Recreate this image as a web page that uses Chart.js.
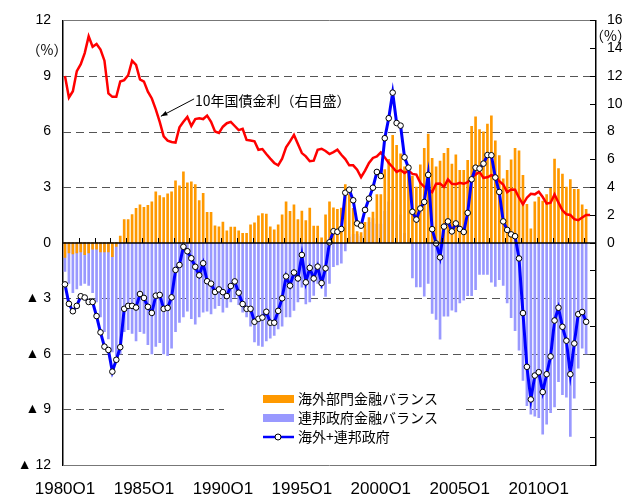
<!DOCTYPE html>
<html lang="ja">
<head>
<meta charset="UTF-8">
<title>海外部門・連邦政府金融バランスと10年国債金利</title>
<script src="https://cdn.jsdelivr.net/npm/chart.js"></script>
<style>
  html, body { margin: 0; padding: 0; background: #fff; }
  #wrap { width: 624px; height: 494px; position: relative; }
</style>
</head>
<body>
<div id="wrap"><canvas id="chart"></canvas></div>
<script>
// quarters 1980Q1 .. 2013Q3
const quarters = [];
for (let yr = 1980; yr <= 2013; yr++) {
    for (let q = 1; q <= 4; q++) {
        if (yr === 2013 && q > 3) break;
        quarters.push(yr + 'Q' + q);
    }
}
const tickLabels = ['1980Q1', '1985Q1', '1990Q1', '1995Q1', '2000Q1', '2005Q1', '2010Q1'];
const leftTicks = [-12, -9, -6, -3, 0, 3, 6, 9, 12];

// 海外部門金融バランス (%)
const foreignBal = [
    -0.8, -0.55, -0.6, -0.55, -0.5, -0.65, -0.55, -0.35, -0.35, -0.5,
    -0.5, -0.5, -0.75, -0.2, 0.36, 1.25, 1.25, 1.52, 1.86, 2.05,
    1.91, 2.02, 2.21, 2.75, 2.54, 2.43, 2.64, 2.75, 3.34, 3.07,
    3.82, 3.23, 3.29, 3.14, 2.27, 2.66, 1.64, 1.64, 0.91, 0.86,
    1.11, 0.64, 0.84, 0.84, 0.64, 0.5, 0.5, 0.96, 1.07, 1.45,
    1.57, 1.55, 0.85, 0.7, 0.96, 1.5, 2.2, 1.7, 2.04, 1.25,
    1.71, 1.2, 1.87, 0.9, 0.9, 0.26, 1.5, 2.2, 1.88, 1.8,
    1.87, 3.14, 2.6, 1.85, 0.6, 0.55, 1.1, 1.35, 1.65, 2.6,
    2.6, 3.95, 4.5, 5.8, 5.25, 4.8, 4.1, 3.9, 3.6, 3.0,
    4.2, 5.09, 5.86, 4.55, 4.1, 4.4, 4.83, 5.1, 4.25, 4.75,
    3.9, 3.9, 4.45, 6.28, 6.8, 6.1, 5.98, 6.4, 6.85, 5.5,
    4.7, 3.45, 3.9, 4.48, 5.1, 4.96, 3.64, 2.07, 0.75, 2.2,
    2.46, 2.25, 2.6, 2.93, 4.52, 4.0, 3.7, 3.0, 3.41, 2.88,
    2.88, 2.04, 1.8
];

// 連邦政府金融バランス (%)
const federalBal = [
    -1.55, -2.2, -2.7, -2.5, -2.3, -2.2, -2.3, -2.7, -3.2, -4.0,
    -4.8, -5.2, -5.9, -6.1, -6.0, -4.8, -4.7, -4.9, -5.3, -4.8,
    -4.9, -5.5, -6.0, -5.6, -5.4, -6.0, -6.1, -5.7, -4.8, -4.3,
    -4.0, -3.7, -4.1, -4.4, -4.0, -3.75, -3.7, -3.85, -3.55, -3.4,
    -3.75, -3.5, -3.2, -2.95, -3.35, -3.75, -4.0, -4.5, -5.35, -5.55,
    -5.6, -5.3, -5.15, -5.0, -4.65, -4.5, -4.0, -4.0, -3.65, -3.2,
    -2.4, -3.3, -3.2, -2.85, -2.2, -2.45, -2.9, -2.2, -1.3, -1.2,
    -1.1, -0.45, 0.3, 0.45, 0.45, 0.35, 0.7, 1.1, 1.3, 1.0,
    1.0, 1.7, 2.2, 2.3, 1.2, 1.5, 0.5, 0.15, -1.9, -2.39,
    -2.39, -2.89, -2.2, -3.82, -4.14, -5.21, -3.96, -3.96, -3.64, -3.73,
    -3.25, -3.1, -2.86, -2.86, -2.54, -1.71, -1.71, -1.71, -2.13, -2.36,
    -2.0, -2.3, -3.25, -4.05, -4.75, -5.8, -7.44, -8.8, -9.25, -9.36,
    -9.45, -10.34, -9.8, -9.18, -8.86, -7.5, -8.2, -8.34, -10.46, -8.39,
    -6.77, -5.7, -6.0
];

// 海外+連邦政府 (%)
const combinedBal = [
    -2.25, -3.30, -3.70, -3.41, -2.89, -2.96, -3.20, -3.20, -3.96, -4.84,
    -5.61, -5.79, -6.96, -6.32, -5.64, -3.57, -3.41, -3.41, -3.50, -2.77,
    -2.98, -3.46, -3.79, -2.86, -2.82, -3.57, -3.52, -2.95, -1.47, -1.20,
    -0.22, -0.46, -0.84, -1.30, -1.76, -1.11, -2.08, -2.21, -2.66, -2.52,
    -2.67, -2.88, -2.34, -2.09, -2.70, -3.31, -3.57, -3.57, -4.27, -4.11,
    -4.04, -3.73, -4.32, -4.32, -3.68, -3.00, -1.82, -2.32, -1.61, -1.93,
    -0.66, -2.14, -1.36, -1.93, -1.29, -2.18, -1.38, 0.02, 0.62, 0.59,
    0.74, 2.70, 2.86, 2.29, 1.04, 0.92, 1.77, 2.38, 2.97, 3.82,
    3.60, 5.64, 6.72, 8.10, 6.46, 6.32, 4.61, 4.05, 1.67, 1.25,
    1.85, 2.20, 3.66, 0.73, -0.04, -0.79, 0.87, 1.15, 0.61, 1.04,
    0.74, 0.58, 1.61, 3.42, 4.05, 4.00, 4.27, 4.73, 4.72, 3.52,
    2.74, 1.15, 0.69, 0.45, 0.35, -0.85, -3.80, -6.70, -8.46, -7.17,
    -6.99, -8.06, -7.10, -6.14, -4.20, -3.51, -4.54, -5.29, -7.10, -5.44,
    -3.86, -3.74, -4.27
];

// 10年国債金利 (%, 右目盛)
const tenYearYield = [
    12.0, 10.45, 10.9, 12.35, 12.85, 13.65, 14.85, 14.1, 14.3, 13.9,
    13.1, 10.75, 10.5, 10.5, 11.6, 11.7, 12.05, 13.1, 12.8, 11.75,
    11.6, 10.87, 10.38, 9.6, 8.7, 7.65, 7.35, 7.25, 7.2, 8.3,
    8.7, 9.05, 8.4, 8.9, 8.95, 8.9, 9.15, 8.7, 8.0, 7.9,
    8.35, 8.6, 8.7, 8.4, 8.1, 8.19, 7.4, 7.36, 7.3, 6.69,
    6.74, 6.38, 6.05, 5.74, 5.57, 6.05, 6.86, 7.29, 7.76, 7.1,
    6.45, 6.21, 5.86, 5.9, 6.69, 6.76, 6.6, 6.38, 6.52, 6.69,
    6.33, 6.02, 5.57, 5.57, 5.26, 4.71, 5.19, 5.74, 6.1, 6.21,
    6.5, 6.14, 5.74, 5.43, 5.1, 5.24, 5.02, 5.19, 4.95, 4.9,
    4.31, 4.02, 3.83, 3.64, 4.24, 4.26, 4.02, 4.55, 4.24, 4.21,
    4.31, 4.24, 4.36, 4.67, 4.9, 5.1, 4.67, 4.71, 4.86, 4.79,
    4.43, 4.19, 3.64, 3.83, 3.81, 3.24, 2.76, 3.24, 3.52, 3.48,
    3.67, 3.29, 2.81, 2.88, 3.48, 2.88, 2.33, 2.05, 2.0, 1.69,
    1.62, 1.81, 2.0, 2.0
];

const numFont = "'Liberation Sans', Arial, 'DejaVu Sans', sans-serif";
const jpFont = "'Noto Sans CJK JP', 'Noto Sans', sans-serif";

// grid lines, zero line, year ticks, custom legend and the annotation
const decorations = {
    id: 'decorations',
    beforeDatasetsDraw(chart) {
        const { ctx, chartArea: a, scales: { y } } = chart;
        ctx.save();
        ctx.strokeStyle = '#555';
        ctx.lineWidth = 1;
        ctx.setLineDash([8, 5]);
        leftTicks.forEach(v => {
            if (v === 0 || Math.abs(v) === 12) return;
            const py = Math.round(y.getPixelForValue(v)) + 0.5;
            ctx.beginPath();
            ctx.moveTo(a.left, py);
            ctx.lineTo(a.right, py);
            ctx.stroke();
        });
        ctx.setLineDash([]);
        ctx.strokeStyle = '#777';
        [12, -12].forEach(v => {
            const py = Math.round(y.getPixelForValue(v)) + 0.5;
            ctx.beginPath();
            ctx.moveTo(a.left, py);
            ctx.lineTo(a.right, py);
            ctx.stroke();
        });
        ctx.restore();
    },
    afterDatasetsDraw(chart) {
        const { ctx, chartArea: a, scales: { x, y, y1 } } = chart;
        ctx.save();

        // zero line with yearly tick marks
        const y0 = Math.round(y.getPixelForValue(0));
        ctx.strokeStyle = '#000';
        ctx.lineWidth = 1.5;
        ctx.beginPath();
        ctx.moveTo(a.left, y0);
        ctx.lineTo(a.right, y0);
        ctx.stroke();
        ctx.lineWidth = 1;
        for (let i = 4; i < quarters.length; i += 4) {
            const px = Math.round((x.getPixelForValue(i - 1) + x.getPixelForValue(i)) / 2) + 0.5;
            ctx.beginPath();
            ctx.moveTo(px, y0);
            ctx.lineTo(px, y0 - 5);
            ctx.stroke();
        }

        // right axis tick marks (inside)
        for (let v = -16; v <= 16; v += 2) {
            const py = Math.round(y1.getPixelForValue(v)) + 0.5;
            ctx.beginPath();
            ctx.moveTo(a.right - 6, py);
            ctx.lineTo(a.right, py);
            ctx.stroke();
        }

        // unit labels
        ctx.fillStyle = '#000';
        ctx.font = '14px ' + jpFont;
        ctx.textBaseline = 'middle';
        ctx.textAlign = 'center';
        ctx.fillText('（%）', 47, 50);
        ctx.textAlign = 'left';
        ctx.fillText('（%）', 590, 36);

        // annotation for the yield line
        const tipX = x.getPixelForValue(24.3), tipY = y1.getPixelForValue(9.1);
        const tailX = x.getPixelForValue(32.7), tailY = y1.getPixelForValue(10.35);
        ctx.strokeStyle = '#000';
        ctx.lineWidth = 1;
        ctx.beginPath();
        ctx.moveTo(tailX, tailY);
        ctx.lineTo(tipX, tipY);
        ctx.stroke();
        const ang = Math.atan2(tipY - tailY, tipX - tailX);
        ctx.beginPath();
        ctx.moveTo(tipX, tipY);
        ctx.lineTo(tipX - 7 * Math.cos(ang - 0.35), tipY - 7 * Math.sin(ang - 0.35));
        ctx.lineTo(tipX - 7 * Math.cos(ang + 0.35), tipY - 7 * Math.sin(ang + 0.35));
        ctx.closePath();
        ctx.fillStyle = '#000';
        ctx.fill();
        ctx.font = '14px ' + jpFont;
        ctx.fillText('10年国債金利（右目盛）', tailX + 1, tailY + 2);

        // legend box inside the plot
        ctx.fillStyle = '#fff';
        ctx.fillRect(224, 386, 242, 62);
        const ds = chart.data.datasets;
        const items = [ds[2], ds[3], ds[0]];
        items.forEach((d, k) => {
            const cy = 399 + k * 19;
            if (d.type === 'bar') {
                ctx.fillStyle = d.backgroundColor;
                ctx.fillRect(263, cy - 4, 31, 8);
            } else {
                ctx.strokeStyle = d.borderColor;
                ctx.lineWidth = 2.5;
                ctx.beginPath();
                ctx.moveTo(263, cy);
                ctx.lineTo(294, cy);
                ctx.stroke();
                ctx.beginPath();
                ctx.arc(278, cy, 3, 0, Math.PI * 2);
                ctx.fillStyle = '#fff';
                ctx.fill();
                ctx.strokeStyle = '#000';
                ctx.lineWidth = 1;
                ctx.stroke();
            }
            ctx.fillStyle = '#000';
            ctx.font = '14px ' + jpFont;
            ctx.textAlign = 'left';
            ctx.textBaseline = 'middle';
            ctx.fillText(d.label, 298, cy);
        });
        ctx.restore();
    }
};

const ctx = document.getElementById('chart').getContext('2d');
new Chart(ctx, {
    data: {
        labels: quarters,
        datasets: [
            {
                type: 'line',
                label: '海外+連邦政府',
                data: combinedBal,
                yAxisID: 'y',
                order: 0,
                borderColor: '#0000FF',
                borderWidth: 3,
                tension: 0,
                pointRadius: 2.8,
                pointBackgroundColor: '#fff',
                pointBorderColor: '#000',
                pointBorderWidth: 1
            },
            {
                type: 'line',
                label: '10年国債金利',
                data: tenYearYield,
                yAxisID: 'y1',
                order: 1,
                borderColor: '#FF0000',
                borderWidth: 2.5,
                tension: 0,
                pointRadius: 0
            },
            {
                type: 'bar',
                label: '海外部門金融バランス',
                data: foreignBal,
                yAxisID: 'y',
                order: 2,
                backgroundColor: '#FF9900',
                barThickness: 2,
                grouped: false
            },
            {
                type: 'bar',
                label: '連邦政府金融バランス',
                data: federalBal,
                yAxisID: 'y',
                order: 3,
                backgroundColor: '#9999FF',
                barThickness: 2,
                grouped: false
            }
        ]
    },
    options: {
        responsive: true,
        maintainAspectRatio: false,
        animation: false,
        devicePixelRatio: 1,
        layout: { padding: { top: 18, left: 0, right: 0, bottom: 0 } },
        plugins: {
            legend: { display: false },
            tooltip: { enabled: false }
        },
        scales: {
            x: {
                type: 'category',
                offset: true,
                grid: { display: false, drawTicks: false },
                border: { display: false },
                ticks: {
                    autoSkip: false,
                    maxRotation: 0,
                    minRotation: 0,
                    padding: 14,
                    color: '#000',
                    font: { family: numFont, size: 17 },
                    callback: function (v) {
                        const l = this.getLabelForValue(v);
                        return tickLabels.includes(l) ? l : '';
                    }
                },
                afterFit: s => { s.height = 29; }
            },
            y: {
                position: 'left',
                min: -12,
                max: 12,
                grid: { display: false, drawTicks: false },
                border: { display: true, color: '#000', width: 1.5 },
                ticks: {
                    stepSize: 3,
                    padding: 12,
                    color: '#000',
                    font: { family: numFont, size: 14 },
                    callback: v => v < 0 ? '▲ ' + (-v) : String(v)
                },
                afterFit: s => { s.width = 63; }
            },
            y1: {
                position: 'right',
                min: -16,
                max: 16,
                grid: { display: false, drawTicks: false },
                border: { display: true, color: '#000', width: 1.5 },
                ticks: {
                    stepSize: 2,
                    padding: 11,
                    color: '#000',
                    font: { family: numFont, size: 14 },
                    callback: v => v >= 0 ? String(v) : ''
                },
                afterFit: s => { s.width = 28; }
            }
        }
    },
    plugins: [decorations]
});
</script>
</body>
</html>
